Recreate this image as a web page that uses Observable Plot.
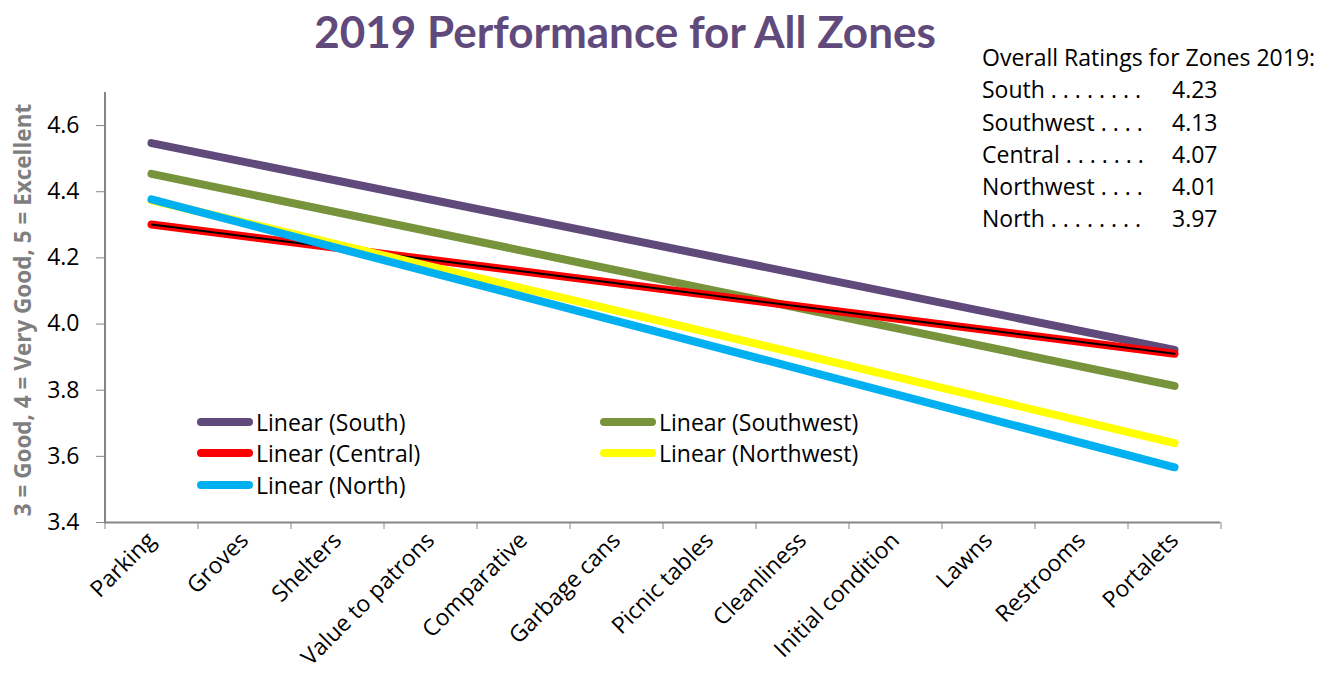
<!DOCTYPE html>
<html><head><meta charset="utf-8">
<script src="https://cdn.jsdelivr.net/npm/d3@7"></script>
<script src="https://cdn.jsdelivr.net/npm/@observablehq/plot@0.6"></script>
<style>
body{margin:0;background:#fff;font-family:"Open Sans",Lato,sans-serif;}
#wrap{position:relative;width:1322px;height:680px;overflow:hidden;}
#title{height:70px;width:1250px;text-align:center;font-family:Lato,"Open Sans",sans-serif;font-weight:bold;font-size:44px;color:#604A7B;line-height:62px;}
#ratings{position:absolute;left:982px;top:41px;font-size:23px;color:#000;}
#ratings .row{position:relative;height:32.3px;line-height:32.3px;white-space:pre;}
#ratings .val{position:absolute;left:190px;top:0;}
.leg{position:absolute;font-size:23px;color:#000;display:flex;align-items:center;height:30px;white-space:nowrap;}
.leg .sw{width:56px;height:8px;border-radius:4px;margin-right:3px;}
#ytitle{position:absolute;left:22px;top:310px;transform:translate(-50%,-50%) rotate(-90deg);white-space:nowrap;font-size:22.5px;font-weight:bold;color:#7F7F7F;}
</style></head>
<body>
<div id="wrap">
  <div id="title">2019 Performance for All Zones</div>
  <div id="chart"></div>
  <div id="ytitle"></div>
  <div id="ratings"></div>
  <div id="legend"></div>
</div>
<script>
const categories = ["Parking","Groves","Shelters","Value to patrons","Comparative","Garbage cans","Picnic tables","Cleanliness","Initial condition","Lawns","Restrooms","Portalets"];
const zones = ["South","Southwest","Central","Northwest","North"];
const trendStart = [4.547, 4.454, 4.301, 4.374, 4.377];
const trendEnd = [3.922, 3.813, 3.910, 3.640, 3.567];
const overallRatings = [4.23, 4.13, 4.07, 4.01, 3.97];
const leaderDots = [8, 4, 7, 4, 8];
const zoneColors = ["#604A7B","#77933C","#FF0000","#FFFF00","#00B0F0"];
const yTicks = [3.4, 3.6, 3.8, 4.0, 4.2, 4.4, 4.6];
const yDomain = [3.4, 4.7];
const yTitle = "3 = Good, 4 = Very Good, 5 = Excellent";

const rows = zones.flatMap((z, i) => [
  {zone: z, cat: categories[0], value: trendStart[i]},
  {zone: z, cat: categories[categories.length - 1], value: trendEnd[i]}
]);
const idx = z => zones.indexOf(z);
const axisColor = "#868686";
const step = (1322 - 104 - 102) / categories.length;

const chart = Plot.plot({
  width: 1322, height: 610,
  marginLeft: 104, marginRight: 102, marginTop: 22, marginBottom: 158,
  style: {fontFamily: "'Open Sans', Lato, sans-serif", fontSize: "23px", color: "#000", background: "transparent", overflow: "visible"},
  x: {type: "point", domain: categories, padding: 0.5},
  y: {domain: yDomain},
  color: {domain: zones, range: zoneColors},
  marks: [
    Plot.axisY({ticks: yTicks, tickFormat: d3.format(".1f"), tickSize: 8, tickPadding: 17, stroke: axisColor, label: null, fontSize: 23}),
    Plot.axisX({ticks: categories, tickFormat: () => "", tickSize: 7, dx: -step / 2, stroke: axisColor, label: null}),
    Plot.axisX({ticks: [categories[categories.length - 1]], tickFormat: () => "", tickSize: 7, dx: step / 2, stroke: axisColor, label: null}),
    Plot.axisX({ticks: categories, tickSize: 0, tickPadding: 14, tickRotate: -45, label: null, fontSize: 23}),
    Plot.ruleY([yDomain[0]], {stroke: axisColor, strokeWidth: 2}),
    Plot.ruleX([categories[0]], {dx: -step / 2, y1: yDomain[0], y2: yDomain[1], stroke: axisColor, strokeWidth: 2}),
    Plot.line(rows.filter(d => idx(d.zone) <= 2), {x: "cat", y: "value", z: "zone", stroke: "zone", strokeWidth: 8, strokeLinecap: "round"}),
    Plot.line(rows.filter(d => d.zone === "Central"), {x: "cat", y: "value", stroke: "#000", strokeWidth: 2}),
    Plot.line(rows.filter(d => idx(d.zone) > 2), {x: "cat", y: "value", z: "zone", stroke: "zone", strokeWidth: 8, strokeLinecap: "round"})
  ]
});
document.getElementById("chart").appendChild(chart);
document.getElementById("ytitle").textContent = yTitle;

// Overall ratings box
const rb = document.getElementById("ratings");
const head = document.createElement("div");
head.className = "row";
head.textContent = "Overall Ratings for Zones 2019:";
rb.appendChild(head);
zones.forEach((z, i) => {
  const r = document.createElement("div");
  r.className = "row";
  r.textContent = z + " " + Array(leaderDots[i]).fill(".").join(" ");
  const v = document.createElement("span");
  v.className = "val";
  v.textContent = overallRatings[i].toFixed(2);
  r.appendChild(v);
  rb.appendChild(r);
});

// Legend
const legendPos = [[197, 407], [600, 407], [197, 438], [600, 438], [197, 470]];
const lg = document.getElementById("legend");
zones.forEach((z, i) => {
  const e = document.createElement("div");
  e.className = "leg";
  e.style.left = legendPos[i][0] + "px";
  e.style.top = legendPos[i][1] + "px";
  const sw = document.createElement("div");
  sw.className = "sw";
  sw.style.background = zoneColors[i];
  e.appendChild(sw);
  const t = document.createElement("span");
  t.textContent = "Linear (" + z + ")";
  e.appendChild(t);
  lg.appendChild(e);
});
</script>
</body></html>
